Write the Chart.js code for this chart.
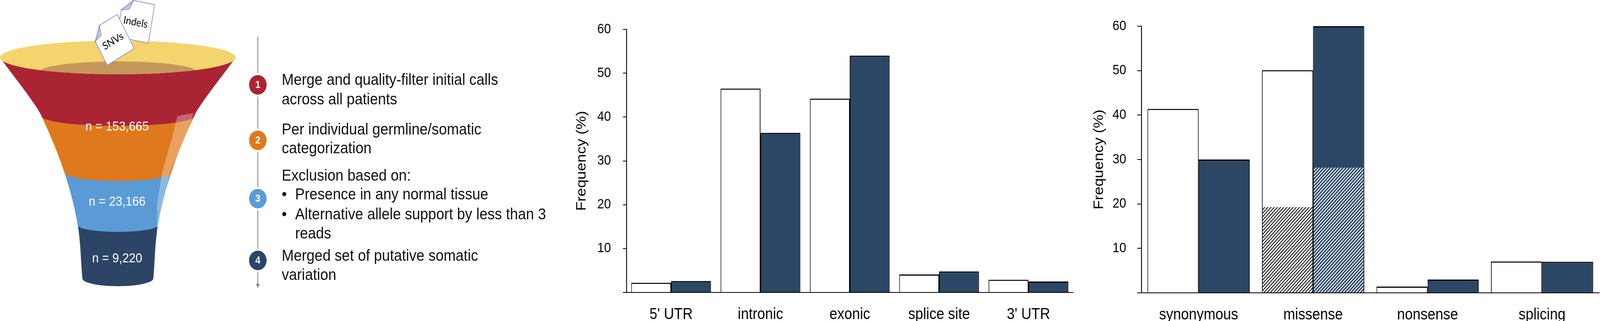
<!DOCTYPE html>
<html>
<head>
<meta charset="utf-8">
<script src="https://cdn.jsdelivr.net/npm/chart.js@4.4.1/dist/chart.umd.min.js"></script>
<style>
  html, body { margin: 0; padding: 0; overflow: hidden; background: #fff; }
  #page { position: absolute; left: 0; top: 0; width: 4549px; height: 821px; transform-origin: 0 0; background: #fff; }
  .box { position: absolute; top: 0; height: 821px; }
  .step { position: absolute; font-family: 'Liberation Sans', Arial, sans-serif; font-size: 41px; line-height: 48px; white-space: nowrap; color: #111; }
</style>
</head>
<body>
<div id="page">
<div class="box" style="left:0;width:1600px"><canvas id="funnel"></canvas></div>
<div id="steps"></div>
<div class="box" style="left:1600px;width:1500px"><canvas id="regionChart"></canvas></div>
<div class="box" style="left:3100px;width:1449px"><canvas id="effectChart"></canvas></div>
</div>
<script>
// ---- data ----
var funnelCounts = [153665, 23166, 9220];
var funnelInputs = ['SNVs', 'Indels'];
var stepNumbers = ['1', '2', '3', '4'];
var stepTexts = [
    ['Merge and quality-filter initial calls', 'across all patients'],
    ['Per individual germline/somatic', 'categorization'],
    ['Exclusion based on:', '\u2022 Presence in any normal tissue', '\u2022 Alternative allele support by less than 3', '  reads'],
    ['Merged set of putative somatic', 'variation']
];

var regionLabels = ["5' UTR", 'intronic', 'exonic', 'splice site', "3' UTR"];
var regionOpen = [2.2, 46.5, 44.2, 4.1, 2.9];
var regionFilled = [2.6, 36.4, 54.0, 4.8, 2.5];

var effectLabels = ['synonymous', 'missense', 'nonsense', 'splicing'];
var effectOpen = [41.4, 50.1, 1.4, 7.05];
var effectFilled = [30.0, 60.0, 3.0, 7.0];
var effectOpenHatched = [null, 19.3, null, null];
var effectFilledHatched = [null, 28.2, null, null];

var yTickValues = [0, 10, 20, 30, 40, 50, 60];
var yTitle = 'Frequency (%)';

// ---- styles ----
var FONT = "'Liberation Sans', Arial, sans-serif";
var NAVY = '#2c4766';
var RED = '#ab2433', ORANGE = '#df791e', BLUE = '#5b9bd5', DARK = '#2c4566';

Chart.defaults.font.family = FONT;
Chart.defaults.color = '#000';

// the window may be narrower than 4549, so stretch the layout onto it
var page = document.getElementById('page');
page.style.transform = 'scale(' + (window.innerWidth / 4549) + ',' + (window.innerHeight / 821) + ')';

// step texts on the left, next to the arrow
var stepY = [[203, 253], [330, 378], [448, 496, 547, 596], [653, 702]];
var stepsDiv = document.getElementById('steps');
stepTexts.forEach(function(lines, i){
    lines.forEach(function(line, j){
        var y = stepY[i][j];
        var left = 801, text = line;
        if (line.indexOf('\u2022 ') === 0) {
            var b = document.createElement('div');
            b.className = 'step';
            b.style.left = '801px';
            b.style.top = (y - 24) + 'px';
            b.textContent = '\u2022';
            stepsDiv.appendChild(b);
            left = 839; text = line.slice(2);
        } else if (line.indexOf('  ') === 0) {
            left = 839; text = line.trim();
        }
        var d = document.createElement('div');
        d.className = 'step';
        d.style.left = left + 'px';
        d.style.top = (y - 24) + 'px';
        d.textContent = text;
        stepsDiv.appendChild(d);
    });
});

// funnel drawing
function hermite(pts, yy) {
    var n = pts.length;
    if (yy <= pts[0][0]) return pts[0][1];
    if (yy >= pts[n-1][0]) return pts[n-1][1];
    var i = 0;
    while (yy > pts[i+1][0]) i++;
    function slope(k) {
        var a = pts[Math.max(k-1, 0)], b = pts[Math.min(k+1, n-1)];
        return (b[1] - a[1]) / (b[0] - a[0]);
    }
    var y0 = pts[i][0], y1 = pts[i+1][0], dy = y1 - y0;
    var t = (yy - y0) / dy, t2 = t*t, t3 = t2*t;
    return (2*t3 - 3*t2 + 1) * pts[i][1] + (t3 - 2*t2 + t) * dy * slope(i)
         + (-2*t3 + 3*t2) * pts[i+1][1] + (t3 - t2) * dy * slope(i+1);
}

function drawPaper(ctx, cx, cy, w, h, angle, fold, label) {
    ctx.save();
    ctx.translate(cx, cy);
    ctx.rotate(angle * Math.PI / 180);
    ctx.beginPath();
    ctx.moveTo(-w/2, -h/2 + fold);
    ctx.lineTo(-w/2 + fold, -h/2);
    ctx.lineTo(w/2, -h/2);
    ctx.lineTo(w/2, h/2);
    ctx.lineTo(-w/2, h/2);
    ctx.closePath();
    ctx.fillStyle = '#fff';
    ctx.fill();
    ctx.strokeStyle = '#6a78c6';
    ctx.lineWidth = 1.5;
    ctx.stroke();
    ctx.beginPath();
    ctx.moveTo(-w/2, -h/2 + fold);
    ctx.lineTo(-w/2 + fold, -h/2);
    ctx.lineTo(-w/2 + fold * 0.75, -h/2 + fold * 0.8);
    ctx.closePath();
    ctx.fillStyle = '#c9cacc';
    ctx.fill();
    ctx.stroke();
    ctx.fillStyle = '#000';
    ctx.font = '27px Lato, sans-serif';
    ctx.textAlign = 'center';
    ctx.textBaseline = 'middle';
    ctx.fillText(label, 0, 4);
    ctx.restore();
}

var funnelPlugin = {
    id: 'funnelShape',
    afterDraw: function(chart) {
        var ctx = chart.ctx, xs = chart.scales.x, ys = chart.scales.y;
        var px = function(v){ return xs.getPixelForValue(v); };
        var py = function(v){ return ys.getPixelForValue(v); };
        var cx = 335;
        var profile = [[147, 333], [157, 327], [250, 250], [297, 217], [441, 152], [576, 114], [712, 101]];
        var bands = [
            {top: 147, bottom: 297, ry: 25, color: RED, labelY: 325},
            {top: 297, bottom: 441, ry: 22, color: ORANGE, labelY: 517},
            {top: 441, bottom: 576, ry: 17, color: BLUE, labelY: 662},
            {top: 576, bottom: 712, ry: 20, color: DARK}
        ];
        ctx.save();
        for (var k = bands.length - 1; k >= 0; k--) {
            var b = bands[k];
            ctx.beginPath();
            for (var yy = b.top; yy < b.bottom; yy += 2) ctx.lineTo(px(cx - hermite(profile, yy)), py(yy));
            var rx = hermite(profile, b.bottom);
            ctx.lineTo(px(cx - rx), py(b.bottom));
            ctx.ellipse(px(cx), py(b.bottom), px(cx + rx) - px(cx), py(b.bottom + b.ry) - py(b.bottom), 0, Math.PI, 0, true);
            for (yy = b.bottom; yy >= b.top; yy -= 2) ctx.lineTo(px(cx + hermite(profile, yy)), py(yy));
            ctx.closePath();
            ctx.fillStyle = b.color;
            ctx.fill();
        }
        // rim and opening
        ctx.beginPath();
        ctx.ellipse(px(cx), py(147), px(cx + 335) - px(cx), py(190) - py(147), 0, 0, Math.PI * 2);
        ctx.fillStyle = '#f4d46c';
        ctx.fill();
        ctx.save();
        ctx.clip();
        ctx.beginPath();
        ctx.ellipse(px(336), py(184), px(560) - px(336), py(211) - py(184), 0, 0, Math.PI * 2);
        ctx.fillStyle = '#c5975b';
        ctx.fill();
        ctx.restore();
        // glass highlight
        var hl = [[504, 297], [550, 289], [532, 345], [484, 437], [452, 575], [446, 594], [447, 520], [462, 437], [490, 350]];
        ctx.beginPath();
        hl.forEach(function(p, i){ i ? ctx.lineTo(px(p[0]), py(p[1])) : ctx.moveTo(px(p[0]), py(p[1])); });
        ctx.closePath();
        ctx.fillStyle = 'rgba(255,255,255,0.3)';
        ctx.fill();
        // papers going in
        drawPaper(ctx, px(386), py(53), 91, 100, 10, 30, funnelInputs[1]);
        drawPaper(ctx, px(319), py(102), 88, 100, -29, 30, funnelInputs[0]);
        // counts
        ctx.fillStyle = '#fff';
        ctx.font = '34px ' + FONT;
        ctx.textAlign = 'center';
        ctx.textBaseline = 'middle';
        funnelCounts.forEach(function(n, i){
            ctx.fillText('n = ' + n.toLocaleString('en-US'), px(333), py(bands[i].labelY));
        });
        // arrow with numbered steps
        var lx = px(733), circleY = [217, 359, 508, 666], r = 25, gap = 5;
        var stepColors = [RED, ORANGE, BLUE, DARK];
        ctx.strokeStyle = '#7f7f7f';
        ctx.lineWidth = 2;
        var prev = 94;
        circleY.forEach(function(c){
            ctx.beginPath();
            ctx.moveTo(lx, py(prev));
            ctx.lineTo(lx, py(c - r - gap));
            ctx.stroke();
            prev = c + r + gap;
        });
        ctx.beginPath();
        ctx.moveTo(lx, py(prev));
        ctx.lineTo(lx, py(728));
        ctx.stroke();
        ctx.beginPath();
        ctx.moveTo(lx - 5, py(726));
        ctx.lineTo(lx + 5, py(726));
        ctx.lineTo(lx, py(737));
        ctx.closePath();
        ctx.fillStyle = '#7f7f7f';
        ctx.fill();
        circleY.forEach(function(c, i){
            ctx.beginPath();
            ctx.arc(lx, py(c), r, 0, Math.PI * 2);
            ctx.fillStyle = stepColors[i];
            ctx.fill();
            ctx.fillStyle = '#fff';
            ctx.font = 'bold 26px ' + FONT;
            ctx.fillText(stepNumbers[i], lx, py(c) + 1);
        });
        ctx.restore();
    }
};

new Chart(document.getElementById('funnel'), {
    type: 'scatter',
    data: { datasets: [] },
    options: {
        responsive: true, maintainAspectRatio: false, animation: false,
        layout: { padding: 0, autoPadding: false },
        plugins: { legend: { display: false }, tooltip: { enabled: false } },
        scales: {
            x: { type: 'linear', min: 0, max: 1600, display: false },
            y: { type: 'linear', min: 0, max: 821, reverse: true, display: false }
        }
    },
    plugins: [funnelPlugin]
});

// hatch fills for the missense split
function hatch(bg, fg, lw) {
    var s = 9, c = document.createElement('canvas');
    c.width = s; c.height = s;
    var g = c.getContext('2d');
    g.fillStyle = bg; g.fillRect(0, 0, s, s);
    g.strokeStyle = fg; g.lineWidth = lw;
    g.beginPath();
    g.moveTo(0, s); g.lineTo(s, 0);
    g.moveTo(-2, 2); g.lineTo(2, -2);
    g.moveTo(s - 2, s + 2); g.lineTo(s + 2, s - 2);
    g.stroke();
    return g.createPattern(c, 'repeat');
}

var barBorder = { top: 3, left: 2, right: 2, bottom: 0 };

function barOptions(pad, yWidth, xHeight, tickLen, tickPad) {
    return {
        responsive: true, maintainAspectRatio: false, animation: false,
        layout: { padding: pad, autoPadding: false },
        plugins: { legend: { display: false }, tooltip: { enabled: false } },
        datasets: { bar: { categoryPercentage: 0.893, barPercentage: 1.0 } },
        scales: {
            x: {
                stacked: true,
                grid: { display: false },
                border: { display: true, color: '#000', width: 2 },
                ticks: { color: '#000', font: { size: 40 }, padding: 25, autoSkip: false, maxRotation: 0 },
                afterFit: function(s){ s.height = xHeight; }
            },
            y: {
                stacked: false,
                min: 0, max: 60,
                afterBuildTicks: function(s){ s.ticks = yTickValues.map(function(v){ return {value: v}; }); },
                ticks: { color: '#000', font: { size: 35 }, padding: tickPad,
                         callback: function(v){ return v === 0 ? '' : String(v); } },
                grid: { display: true, drawOnChartArea: false, drawTicks: true, tickLength: tickLen, color: '#000', lineWidth: 2 },
                border: { display: true, color: '#000', width: 2.5 },
                title: { display: true, text: yTitle, color: '#000', font: { size: 39 }, padding: 0 },
                afterFit: function(s){ s.width = yWidth; }
            }
        }
    };
}

new Chart(document.getElementById('regionChart'), {
    type: 'bar',
    data: {
        labels: regionLabels,
        datasets: [
            { data: regionOpen, stack: 'open', backgroundColor: '#fff', borderColor: '#000', borderWidth: barBorder },
            { data: regionFilled, stack: 'filled', backgroundColor: NAVY, borderColor: '#000', borderWidth: barBorder }
        ]
    },
    options: barOptions({ left: 31, right: 49, top: 75, bottom: 0 }, 150, 73, 10, 34)
});

new Chart(document.getElementById('effectChart'), {
    type: 'bar',
    data: {
        labels: effectLabels,
        datasets: [
            { data: effectOpenHatched, stack: 'open', backgroundColor: hatch('#fff', '#000', 2.2), borderColor: '#000',
              borderWidth: { left: 2, right: 2, top: 0, bottom: 0 } },
            { data: effectFilledHatched, stack: 'filled', backgroundColor: hatch(NAVY, '#fff', 2.4), borderColor: '#000',
              borderWidth: { left: 2, right: 2, top: 0, bottom: 0 } },
            { data: effectOpen, stack: 'open', backgroundColor: '#fff', borderColor: '#000', borderWidth: barBorder },
            { data: effectFilled, stack: 'filled', backgroundColor: NAVY, borderColor: '#000', borderWidth: barBorder }
        ]
    },
    options: barOptions({ left: 2, right: 2, top: 67, bottom: 0 }, 143, 72, 12, 31)
});
</script>
</body>
</html>
